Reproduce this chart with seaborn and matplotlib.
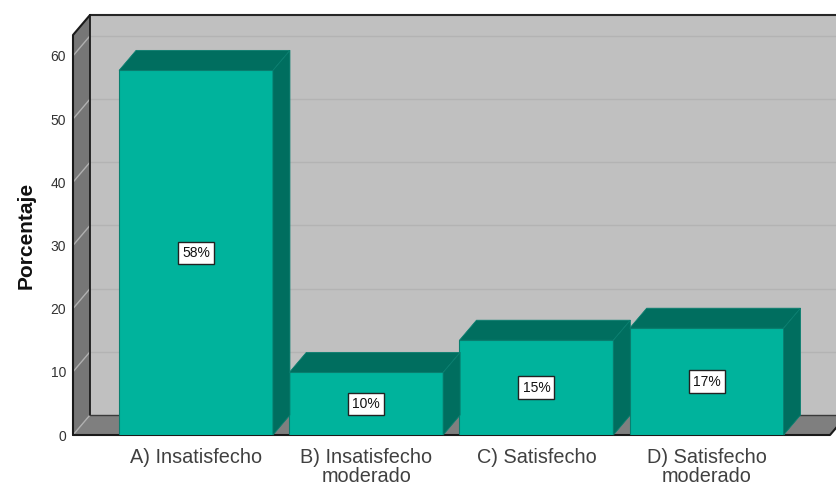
import pandas as pd
import matplotlib.pyplot as plt
import seaborn as sns
import numpy as np

categorias = ["A) Insatisfecho", "B) Insatisfecho\nmoderado", "C) Satisfecho", "D) Satisfecho\nmoderado"]
porcentajes = [57.7, 9.9, 15.0, 16.9]
etiquetas = ["58%", "10%", "15%", "17%"]
yticks = [0, 10, 20, 30, 40, 50, 60]

df = pd.DataFrame({"categoria": categorias, "porcentaje": porcentajes})

W, H = 837, 486
sns.set_theme(style="white")
plt.rcParams["font.family"] = ["Liberation Sans", "DejaVu Sans"]

fig = plt.figure(figsize=(W / 100, H / 100), dpi=100)
ax = fig.add_axes([73 / W, (H - 435) / H, 757 / W, 400 / H])

color_frente = "#00b39c"
color_lado = "#006e5f"

sns.barplot(data=df, x="categoria", y="porcentaje", color=color_frente, saturation=1,
            width=0.904, ax=ax, edgecolor="#0a7f70", linewidth=0.8, zorder=3)

x0, x1 = -0.7227, 3.725
y0, y1 = 0, 63.3
ax.set_xlim(x0, x1)
ax.set_ylim(y0, y1)

# profundidad del efecto 3D, en unidades de datos
dx = 17 / 170.2
dy = 20 / 6.32

# paredes y suelo
ax.fill([x0 + dx, x1 + dx, x1 + dx, x0 + dx], [y0 + dy, y0 + dy, y1 + dy, y1 + dy],
        color="#c0c0c0", zorder=0, clip_on=False, lw=0)
ax.fill([x0, x0 + dx, x0 + dx, x0], [y0, y0 + dy, y1 + dy, y1],
        color="#767676", zorder=0.5, clip_on=False, lw=0)
ax.fill([x0, x1, x1 + dx, x0 + dx], [y0, y0, y0 + dy, y0 + dy],
        color="#7f7f7f", zorder=0.5, clip_on=False, lw=0)

# rejilla
for t in yticks[1:]:
    ax.plot([x0 + dx, x1 + dx], [t + dy, t + dy], color="#b3b3b3", lw=1, zorder=1, clip_on=False)
    ax.plot([x0, x0 + dx], [t, t + dy], color="#b0b0b0", lw=1, zorder=1, clip_on=False)
ax.plot([x0, x0 + dx], [y0, y0 + dy], color="#b0b0b0", lw=1, zorder=1, clip_on=False)

# contornos
negro = "#1a1a1a"
ax.plot([x0 + dx, x1 + dx], [y1 + dy, y1 + dy], color="#262626", lw=1.5, zorder=2, clip_on=False)
ax.plot([x0, x0, x0 + dx], [y0, y1, y1 + dy], color=negro, lw=1.5, zorder=2, clip_on=False)
ax.plot([x0 + dx, x0 + dx], [y0 + dy, y1 + dy], color=negro, lw=1.3, zorder=2, clip_on=False)
ax.plot([x0 + dx, x1 + dx], [y0 + dy, y0 + dy], color="#3a3a3a", lw=1, zorder=2, clip_on=False)
ax.plot([x0, x1, x1 + dx], [y0, y0, y0 + dy], color=negro, lw=1.5, zorder=2, clip_on=False)

# caras superior y lateral de cada barra
for barra, etiqueta in zip(ax.patches[:len(porcentajes)], etiquetas):
    xa = barra.get_x()
    xb = xa + barra.get_width()
    v = barra.get_height()
    ax.fill([xa, xb, xb + dx, xa + dx], [v, v, v + dy, v + dy], facecolor=color_lado,
            edgecolor="#0a7f70", lw=0.6, zorder=3, clip_on=False)
    ax.fill([xb, xb + dx, xb + dx, xb], [0, dy, v + dy, v], facecolor=color_lado,
            edgecolor="#0a7f70", lw=0.6, zorder=3, clip_on=False)
    ax.text((xa + xb) / 2, v / 2, etiqueta, ha="center", va="center", fontsize=10,
            color="#111111", zorder=5,
            bbox=dict(boxstyle="square,pad=0.3", facecolor="white", edgecolor="#222222", linewidth=1))

sns.despine(ax=ax, left=True, bottom=True, top=True, right=True)
ax.set_yticks(yticks)
ax.tick_params(axis="y", length=0, pad=5, labelsize=10, labelcolor="#333333")
ax.tick_params(axis="x", length=0, pad=9, labelsize=14.3, labelcolor="#404040")
for lab in ax.get_xticklabels():
    lab.set_linespacing(1.0)
ax.set_xlabel("")
ax.set_ylabel("Porcentaje", fontsize=15, fontweight="bold", color="#111111", labelpad=11)
ax.set_facecolor("none")

fig.savefig("out.png", dpi=100, facecolor="white")
